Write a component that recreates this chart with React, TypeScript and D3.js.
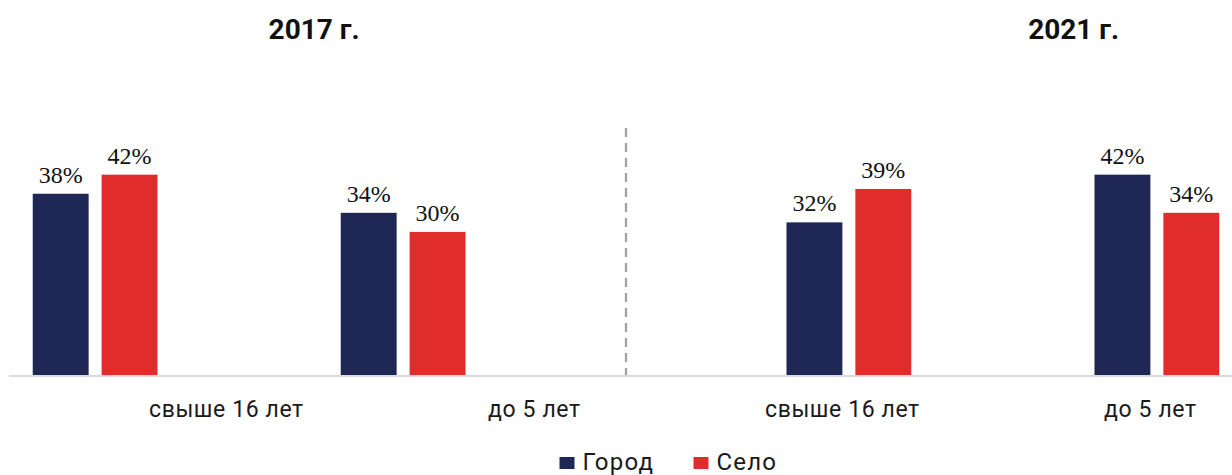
import React, { useEffect } from "react";
import * as d3 from "d3";

// Share of respondents by settlement type, two survey years
const panels = ["2017 г.", "2021 г."];
const categories = ["свыше 16 лет", "до 5 лет"];
const series = ["Город", "Село"];
const values2017Town = [38, 34];
const values2017Village = [42, 30];
const values2021Town = [32, 42];
const values2021Village = [39, 34];

// Each category has four slots: both series for both years; a panel only fills its own year's pair
const slots = ["2017 Город", "2017 Село", "2021 Город", "2021 Село"];

const W = 1232;
const H = 475;
const BASE = 375;
const NAVY = "#1f2755";
const RED = "#e12c2c";
const colors = [NAVY, RED];

type Bar = { panel: number; cat: string; s: number; v: number };

const bars: Bar[] = [];
[
  [values2017Town, values2017Village],
  [values2021Town, values2021Village],
].forEach((pair, p) =>
  pair.forEach((vals, s) =>
    vals.forEach((v, i) => bars.push({ panel: p, cat: categories[i], s, v }))
  )
);

const xPanel = d3.scaleBand<string>().domain(panels).range([0, W]);
const xCat = d3.scaleBand<string>().domain(categories).range([0, xPanel.bandwidth()]);
const xSlot = d3
  .scaleBand<string>()
  .domain(slots)
  .range([0, xCat.bandwidth()])
  .paddingInner(13 / 69)
  .paddingOuter(0.33)
  .align(0.72);
const y = d3.scaleLinear().domain([0, 50]).range([BASE, BASE - 238.5]);

// horizontal anchor of each year heading, as a share of its panel width
const titleAnchor = [0.51, 0.743];

export default function App() {
  useEffect(() => {
    document.body.style.margin = "0";
  }, []);

  const barX = (b: Bar) =>
    (xPanel(panels[b.panel]) ?? 0) + (xCat(b.cat) ?? 0) + (xSlot(slots[b.panel * 2 + b.s]) ?? 0);

  const sansFont = "Roboto, 'Noto Sans', sans-serif";
  const dividerX = (xPanel(panels[1]) ?? 0) + 10;

  return (
    <svg width={W} height={H} style={{ display: "block", background: "#fff" }}>
      {/* year headings */}
      {panels.map((t, p) => (
        <text
          key={t}
          x={(xPanel(t) ?? 0) + xPanel.bandwidth() * titleAnchor[p]}
          y={39}
          textAnchor="middle"
          fontFamily={sansFont}
          fontWeight={700}
          fontSize={28}
          fill="#111"
        >
          {t}
        </text>
      ))}

      {/* dashed separator between years */}
      <line
        x1={dividerX}
        x2={dividerX}
        y1={128}
        y2={BASE}
        stroke="#a3a3a3"
        strokeWidth={2.3}
        strokeDasharray="9 6"
      />

      {/* bars */}
      {bars.map((b, i) => (
        <rect
          key={i}
          x={barX(b)}
          y={y(b.v)}
          width={xSlot.bandwidth()}
          height={BASE - y(b.v)}
          fill={colors[b.s]}
        />
      ))}

      {/* baseline */}
      <line x1={9} x2={W} y1={376} y2={376} stroke="#d9d9d9" strokeWidth={2} />

      {/* value labels */}
      {bars.map((b, i) => (
        <text
          key={"v" + i}
          x={barX(b) + xSlot.bandwidth() / 2}
          y={y(b.v) - 11}
          textAnchor="middle"
          fontFamily="'Times New Roman', 'Liberation Serif', serif"
          fontSize={24}
          fill="#111"
        >
          {b.v}%
        </text>
      ))}

      {/* category labels */}
      {panels.map((t) =>
        categories.map((c) => (
          <text
            key={t + c}
            x={(xPanel(t) ?? 0) + (xCat(c) ?? 0) + xCat.bandwidth() * 0.735}
            y={417}
            textAnchor="middle"
            fontFamily={sansFont}
            fontSize={23}
            letterSpacing={0.6}
            fill="#1a1a1a"
          >
            {c}
          </text>
        ))
      )}

      {/* legend */}
      {series.map((s, i) => {
        const lx = 559.5 + i * 134;
        return (
          <g key={s}>
            <rect x={lx} y={457} width={15} height={12} fill={colors[i]} />
            <text
              x={lx + 23}
              y={469.5}
              fontFamily={sansFont}
              fontSize={24}
              letterSpacing={1.2}
              fill="#1a1a1a"
            >
              {s}
            </text>
          </g>
        );
      })}
    </svg>
  );
}
